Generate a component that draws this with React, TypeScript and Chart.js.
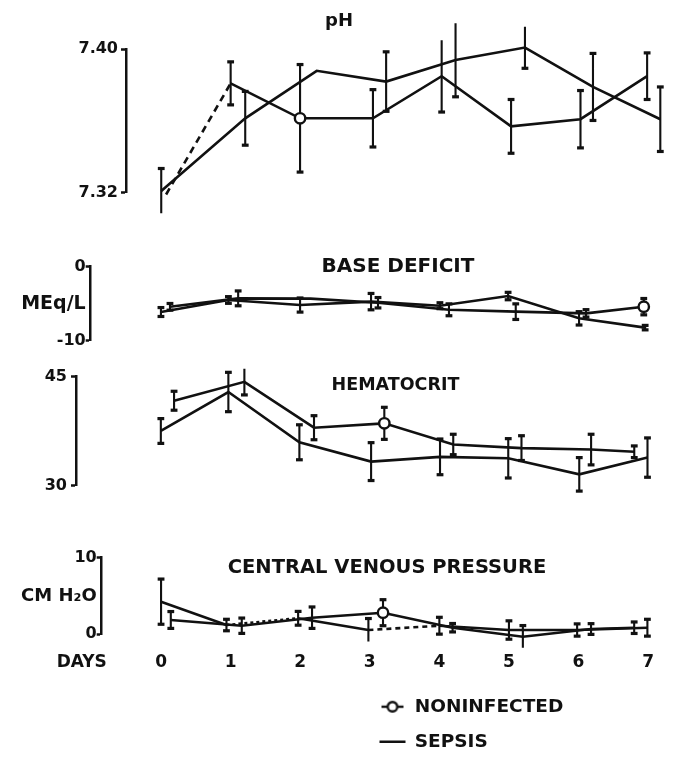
import React, { useEffect, useRef } from "react";
import { Chart, registerables } from "chart.js";

Chart.register(...registerables);

// ================= DATA =================
const dayTicks = [0, 1, 2, 3, 4, 5, 6, 7];
const dayTickLabels = ["0", "1", "2", "3", "4", "5", "6", "7"];
const daysAxisTitle = "DAYS";
const seriesNames = ["NONINFECTED", "SEPSIS"];

// pH
const phTitle = "pH";
const phTicks = [7.32, 7.4];
const phTickLabels = ["7.32", "7.40"];
const phNoninfectedDays = [0.07, 1.0, 2.0, 3.05, 4.04, 5.04, 6.04, 7.0];
const phNoninfected = [7.319, 7.381, 7.3615, 7.3615, 7.385, 7.357, 7.361, 7.385];
const phNoninfectedErr = [null, 0.012, 0.03, 0.016, 0.02, 0.015, 0.016, 0.013];
const phSepsisDays = [0, 1.21, 2.24, 3.24, 4.24, 5.24, 6.22, 7.19];
const phSepsis = [7.321, 7.3615, 7.388, 7.382, 7.394, 7.401, 7.379, 7.361];
const phSepsisErr = [0.0125, 0.015, null, 0.0166, 0.0205, 0.0116, 0.0187, 0.018];

// Base deficit
const bdTitle = "BASE DEFICIT";
const bdTicks = [-10, -5, 0];
const bdTickLabels = ["-10", "MEq/L", "0"];
const bdNoninfectedDays = [0.13, 1.11, 2.15, 3.12, 4.14, 5.1, 6.11, 6.94];
const bdNoninfected = [-5.4, -4.26, -4.3, -4.85, -5.8, -6.05, -6.28, -5.38];
const bdNoninfectedErr = [0.45, 1.0, null, 0.7, 0.8, 1.05, 0.5, 1.1];
const bdSepsisDays = [0, 0.97, 2.0, 3.02, 4.01, 4.99, 6.01, 6.96];
const bdSepsis = [-6.1, -4.48, -5.16, -4.7, -5.25, -3.95, -6.95, -8.2];
const bdSepsisErr = [0.6, 0.45, 0.95, 1.1, 0.4, 0.5, 0.9, 0.3];

// Hematocrit
const hctTitle = "HEMATOCRIT";
const hctTicks = [30, 45];
const hctTickLabels = ["30", "45"];
const hctNoninfectedDays = [0.19, 1.2, 2.2, 3.21, 4.2, 5.18, 6.18, 6.8];
const hctNoninfected = [41.7, 44.3, 38.0, 38.6, 35.7, 35.2, 35.0, 34.7];
const hctNoninfectedErr = [1.3, 1.8, 1.65, 2.2, 1.4, 1.7, 2.1, 0.8];
const hctSepsisDays = [0, 0.97, 1.99, 3.02, 4.01, 4.99, 6.01, 6.99];
const hctSepsis = [37.55, 42.9, 36.0, 33.35, 34.0, 33.8, 31.6, 33.9];
const hctSepsisErr = [1.7, 2.7, 2.4, 2.6, 2.45, 2.7, 2.3, 2.7];

// Central venous pressure
const cvpTitle = "CENTRAL VENOUS PRESSURE";
const cvpTicks = [0, 5, 10];
const cvpTickLabels = ["0", "CM H\u2082O", "10"];
const cvpNoninfectedDays = [0.14, 1.16, 2.17, 3.19, 4.19, 5.2, 6.18, 6.8];
const cvpNoninfected = [1.87, 1.12, 2.17, 2.82, 0.86, -0.31, 0.69, 0.86];
const cvpNoninfectedErr = [1.1, 1.0, 1.4, 1.7, 0.55, 1.45, 0.7, 0.75];
const cvpSepsisDays = [0, 0.94, 1.97, 2.98, 4.0, 5.0, 5.98, 6.99];
const cvpSepsis = [4.26, 1.21, 2.09, 0.56, 1.12, 0.56, 0.56, 0.86];
const cvpSepsisErr = [2.95, 0.75, 0.9, 1.5, 1.1, 1.2, 0.8, 1.1];

// ================= STYLE / LAYOUT =================
const FONT = "'DejaVu Sans', 'Liberation Sans', sans-serif";
const INK = "#111";
const PAGE_W = 678;
const PAGE_H = 757;
const DAY0_PX = 161.7; // pixel of day 0
const DAY_PX = 70.33; // pixels per day
const DAYS_LABEL_AT = -1.14; // where the "DAYS" caption sits on the day axis

Chart.defaults.font.family = FONT;

const panels: any[] = [
  {
    key: "ph", title: phTitle, titleSize: 18, titleY: 21, axisX: 126, top: 49.3, bottom: 192.7,
    width: 678, labelPad: 3, unitIndex: -1, unitFont: 18, showX: false,
    ticks: phTicks, tickLabels: phTickLabels,
    non: { days: phNoninfectedDays, vals: phNoninfected, errs: phNoninfectedErr },
    sep: { days: phSepsisDays, vals: phSepsis, errs: phSepsisErr },
    marker: 2, nonDash: { 0: [7, 5] }, sepDash: {},
  },
  {
    key: "bd", title: bdTitle, titleSize: 20, titleY: 266.7, axisX: 90.7, top: 266.7, bottom: 341,
    width: 796, labelPad: 0, unitIndex: 1, unitFont: 19, showX: false,
    ticks: bdTicks, tickLabels: bdTickLabels,
    non: { days: bdNoninfectedDays, vals: bdNoninfected, errs: bdNoninfectedErr },
    sep: { days: bdSepsisDays, vals: bdSepsis, errs: bdSepsisErr },
    marker: 7, nonDash: {}, sepDash: {},
  },
  {
    key: "hct", title: hctTitle, titleSize: 17.5, titleY: 385, axisX: 76, top: 376.7, bottom: 486,
    width: 791, labelPad: 4, unitIndex: -1, unitFont: 16, showX: false,
    ticks: hctTicks, tickLabels: hctTickLabels,
    non: { days: hctNoninfectedDays, vals: hctNoninfected, errs: hctNoninfectedErr },
    sep: { days: hctSepsisDays, vals: hctSepsis, errs: hctSepsisErr },
    marker: 3, nonDash: {}, sepDash: {},
  },
  {
    key: "cvp", title: cvpTitle, titleSize: 19.5, titleY: 568, axisX: 101.7, top: 557.7, bottom: 634.3,
    width: 774, labelPad: 0, unitIndex: 1, unitFont: 18, showX: true,
    ticks: cvpTicks, tickLabels: cvpTickLabels,
    non: { days: cvpNoninfectedDays, vals: cvpNoninfected, errs: cvpNoninfectedErr },
    sep: { days: cvpSepsisDays, vals: cvpSepsis, errs: cvpSepsisErr },
    marker: 3, nonDash: {}, sepDash: { 1: [3, 3], 3: [5, 4] },
  },
];

function linePoints(s: any) {
  return s.days.map((d: number, i: number) => ({ x: d, y: s.vals[i] }));
}

function errorPoints(s: any) {
  const pts: any[] = [];
  s.days.forEach((d: number, i: number) => {
    const e = s.errs[i];
    if (e == null) return;
    pts.push({ x: d, y: s.vals[i] - e }, { x: d, y: s.vals[i] + e }, { x: d, y: null });
  });
  return pts;
}

function lineDataset(label: string, s: any, dash: any, marker: number) {
  return {
    label,
    data: linePoints(s),
    borderColor: INK,
    borderWidth: 2.6,
    tension: 0,
    clip: false,
    order: 0,
    pointStyle: "circle",
    pointRadius: (ctx: any) => (ctx.dataIndex === marker ? 5.2 : 0),
    pointBackgroundColor: "#fff",
    pointBorderColor: INK,
    pointBorderWidth: 2.4,
    segment: { borderDash: (ctx: any) => dash[ctx.p0DataIndex] },
  };
}

function errorDataset(label: string, s: any) {
  return {
    label: label + " SE",
    data: errorPoints(s),
    borderColor: INK,
    borderWidth: 2.1,
    spanGaps: false,
    clip: false,
    order: 1,
    pointStyle: "line",
    pointRadius: (ctx: any) => (ctx.raw && ctx.raw.y != null ? 3.4 : 0),
    pointBorderColor: INK,
    pointBorderWidth: 3.2,
  };
}

function makePanel(canvas: HTMLCanvasElement, p: any) {
  const lh = p.titleSize * 1.2;
  const tTop = p.titleY - p.top - lh / 2;
  const tBottom = -(tTop + lh) - 2;
  const xAxisH = p.showX ? 60 : 0;
  const xMin = (p.axisX - DAY0_PX) / DAY_PX;
  const xMax = (p.width - DAY0_PX) / DAY_PX;
  return new Chart(canvas, {
    type: "line",
    data: {
      datasets: [
        lineDataset(seriesNames[0], p.non, p.nonDash, p.marker),
        lineDataset(seriesNames[1], p.sep, p.sepDash, -1),
        errorDataset(seriesNames[0], p.non),
        errorDataset(seriesNames[1], p.sep),
      ] as any,
    },
    options: {
      responsive: false,
      animation: false,
      devicePixelRatio: 1,
      events: [],
      layout: { padding: { left: 0, right: 0, top: p.top, bottom: PAGE_H - p.bottom - xAxisH } },
      plugins: {
        legend: { display: false },
        tooltip: { enabled: false },
        title: {
          display: true,
          text: p.title,
          color: INK,
          font: { family: FONT, weight: "bold", size: p.titleSize, lineHeight: 1.2 },
          padding: { top: tTop, bottom: tBottom },
        },
      },
      scales: {
        x: {
          type: "linear",
          min: xMin,
          max: xMax,
          display: p.showX,
          grid: { display: false, drawTicks: false },
          border: { display: false },
          afterBuildTicks: (s: any) => {
            s.ticks = [{ value: DAYS_LABEL_AT }, ...dayTicks.map((v) => ({ value: v }))];
          },
          afterFit: (s: any) => {
            s.height = xAxisH;
          },
          ticks: {
            autoSkip: false,
            maxRotation: 0,
            minRotation: 0,
            padding: 20.5,
            color: INK,
            font: { family: FONT, weight: "bold", size: 17 },
            callback: (_v: any, i: number) => (i === 0 ? daysAxisTitle : dayTickLabels[i - 1]),
          },
        },
        y: {
          type: "linear",
          position: "left",
          min: p.ticks[0],
          max: p.ticks[p.ticks.length - 1],
          afterBuildTicks: (s: any) => {
            s.ticks = p.ticks.map((v: number) => ({ value: v }));
          },
          afterFit: (s: any) => {
            s.width = p.axisX;
          },
          grid: {
            display: true,
            drawOnChartArea: false,
            drawTicks: true,
            tickLength: 5,
            tickWidth: 2.5,
            tickColor: (ctx: any) => (ctx.index === p.unitIndex ? "rgba(0,0,0,0)" : INK),
          },
          border: { display: true, color: INK, width: 2.5 },
          ticks: {
            autoSkip: false,
            padding: p.labelPad,
            color: INK,
            font: (ctx: any) => ({
              family: FONT,
              weight: "bold",
              size: ctx.index === p.unitIndex ? p.unitFont : 16,
            }),
            callback: (_v: any, i: number) => p.tickLabels[i],
          },
        },
      },
    } as any,
  });
}

function openCircleSymbol() {
  const c = document.createElement("canvas");
  c.width = 24;
  c.height = 14;
  const g = c.getContext("2d")!;
  g.strokeStyle = INK;
  g.lineWidth = 2.4;
  g.beginPath();
  g.moveTo(1, 7);
  g.lineTo(23, 7);
  g.stroke();
  g.beginPath();
  g.arc(12, 7, 4.8, 0, Math.PI * 2);
  g.fillStyle = "#fff";
  g.fill();
  g.stroke();
  return c;
}

const LEGEND_CANVAS_W = 1200;

function makeLegend(canvas: HTMLCanvasElement) {
  const symbol = openCircleSymbol();
  return new Chart(canvas, {
    type: "line",
    data: {
      datasets: [
        { label: seriesNames[0], data: [], borderColor: INK },
        { label: seriesNames[1], data: [], borderColor: INK },
      ],
    },
    options: {
      responsive: false,
      animation: false,
      devicePixelRatio: 1,
      events: [],
      layout: { padding: { left: 363, top: 681, right: 0, bottom: 0 } },
      scales: { x: { display: false }, y: { display: false } },
      plugins: {
        tooltip: { enabled: false },
        title: { display: false },
        legend: {
          display: true,
          position: "left",
          align: "start",
          labels: {
            usePointStyle: true,
            pointStyleWidth: 26,
            padding: 16.5,
            color: INK,
            font: { family: FONT, weight: "bold", size: 18.5 },
            generateLabels: () => [
              {
                text: seriesNames[0], pointStyle: symbol, strokeStyle: INK, fillStyle: "#fff",
                lineWidth: 2.4, hidden: false, datasetIndex: 0, fontColor: INK, rotation: 0,
              },
              {
                text: seriesNames[1], pointStyle: "line", strokeStyle: INK, fillStyle: INK,
                lineWidth: 2.5, hidden: false, datasetIndex: 1, fontColor: INK, rotation: 0,
              },
            ],
          },
        },
      },
    } as any,
  });
}

function ChartLayer({ width, height, build }: { width: number; height: number; build: (c: HTMLCanvasElement) => Chart }) {
  const ref = useRef<HTMLCanvasElement>(null);
  useEffect(() => {
    const chart = build(ref.current as HTMLCanvasElement);
    return () => chart.destroy();
  }, []);
  return (
    <canvas
      ref={ref}
      width={width}
      height={height}
      style={{ position: "absolute", left: 0, top: 0, width, height }}
    />
  );
}

export default function App() {
  return (
    <div
      style={{
        position: "fixed",
        left: 0,
        top: 0,
        width: PAGE_W,
        height: PAGE_H,
        overflow: "hidden",
        background: "#fff",
      }}
    >
      {panels.map((p) => (
        <ChartLayer key={p.key} width={p.width} height={PAGE_H} build={(c) => makePanel(c, p)} />
      ))}
      <ChartLayer width={LEGEND_CANVAS_W} height={800} build={makeLegend} />
    </div>
  );
}
